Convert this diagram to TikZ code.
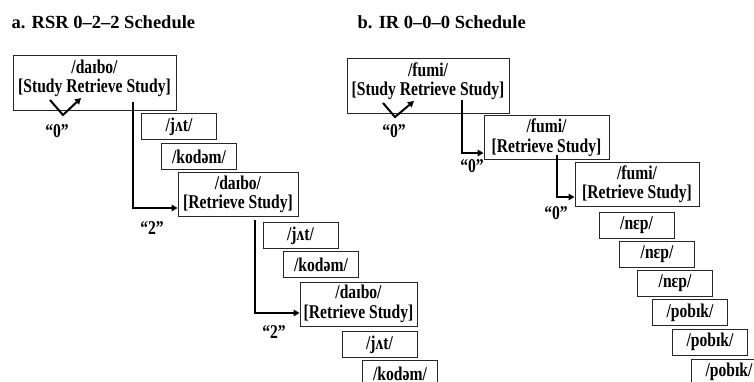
\documentclass[tikz,border=0pt]{standalone}
\usepackage{fontspec}
\setmainfont{Liberation Serif}
\newfontfamily\boxfont{Liberation Serif}[FakeStretch=0.8]
\usetikzlibrary{arrows.meta,calc}
\begin{document}
\begin{tikzpicture}[x=1pt,y=-1pt,
  box/.style={draw=black!85, line width=0.9pt, inner sep=0pt, align=center,
    font=\boxfont\fontsize{19.5}{19.5}\selectfont\bfseries},
  bigbox/.style={box, minimum width=#1, minimum height=55},
  midbox/.style={box, minimum width=#1, minimum height=44},
  smallbox/.style={box, minimum width=75, minimum height=26},
  lbl/.style={inner sep=0pt, font=\boxfont\fontsize{19.5}{19.5}\selectfont\bfseries},
  ttl/.style={inner sep=0pt, anchor=west, font=\fontsize{18.5}{20}\selectfont\bfseries},
  arr/.style={line width=2pt, -{Triangle[length=6pt,width=6.5pt]}},
  conn/.style={line width=1.9pt, -{Triangle[length=6pt,width=6.5pt]}}
]
\useasboundingbox (0,0) rectangle (754,382);
\clip (0,0) rectangle (754,382);

% titles
\node[ttl] (ta) at (11.5,22) {a. RSR 0--2--2 Schedule};
\node[ttl] (tb) at (357.5,22) {b. IR 0--0--0 Schedule};

% ---------- panel a ----------
\node[bigbox=163] (a1) at (94.5,83) {/daɪbo/\\{}[Study Retrieve Study]\\[-6pt]\mbox{}};
\node[smallbox] (aj1) at (179,126.5) {/jʌt/};
\node[smallbox] (ak1) at (199,156.5) {/kodəm/};
\node[midbox=120] (a3) at (238,194.5) {/daɪbo/\\{}[Retrieve Study]};
\node[smallbox] (aj2) at (300.5,235.5) {/jʌt/};
\node[smallbox] (ak2) at (321,264.5) {/kodəm/};
\node[midbox=117] (a4) at (358.5,304) {/daɪbo/\\{}[Retrieve Study]};
\node[smallbox] (aj3) at (379.5,344.5) {/jʌt/};
\node[smallbox] (ak3) at (400,373.5) {/kodəm/};

\coordinate (ca1) at (50,100);
\coordinate (ca2) at (63,115);
\coordinate (ca3) at (81,98);
\draw[arr] (ca1) -- (ca2) -- (ca3);
\node[lbl] (za) at (57,131) {“0”};

\coordinate (a1out) at (133,102);
\coordinate (a3in) at (a3.west |- 0,208);
\draw[conn] (a1out) |- (a3in);
\node[lbl] (t2a) at (152,228) {“2”};

\coordinate (a3out) at (255,220);
\coordinate (a4in) at (a4.west |- 0,313);
\draw[conn] (a3out) |- (a4in);
\node[lbl] (t2b) at (274,332) {“2”};

% ---------- panel b ----------
\node[bigbox=162] (b1) at (428,86) {/fumi/\\{}[Study Retrieve Study]\\[-6pt]\mbox{}};
\node[midbox=125] (b2) at (546.5,137.5) {/fumi/\\{}[Retrieve Study]};
\node[midbox=124] (b3) at (637,184) {/fumi/\\{}[Retrieve Study]};
\node[smallbox] (bn1) at (636.5,225) {/nɛp/};
\node[smallbox] (bn2) at (657,254) {/nɛp/};
\node[smallbox] (bn3) at (675,283) {/nɛp/};
\node[smallbox] (bp1) at (690,312.5) {/pobɪk/};
\node[smallbox] (bp2) at (710,342) {/pobɪk/};
\node[smallbox] (bp3) at (729,372) {/pobɪk/};

\coordinate (cb1) at (383,103);
\coordinate (cb2) at (395,117);
\coordinate (cb3) at (414,101);
\draw[arr] (cb1) -- (cb2) -- (cb3);
\node[lbl] (zb1) at (394,131) {“0”};

\coordinate (b1out) at (462,100);
\coordinate (b2in) at (b2.west |- 0,153);
\draw[conn] (b1out) |- (b2in);
\node[lbl] (zb2) at (472,166) {“0”};

\coordinate (b2out) at (557,155);
\coordinate (b3in) at (b3.west |- 0,197);
\draw[conn] (b2out) |- (b3in);
\node[lbl] (zb3) at (556,213) {“0”};
\end{tikzpicture}
\end{document}
